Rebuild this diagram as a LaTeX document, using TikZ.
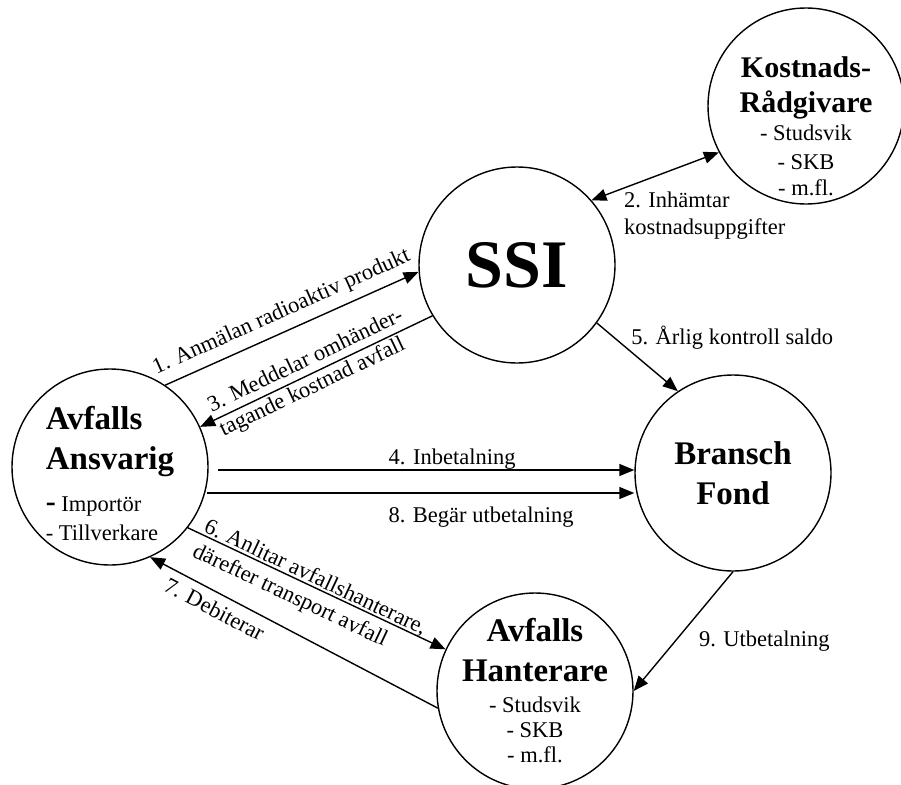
\documentclass[tikz,border=0pt]{standalone}
\usepackage{fontspec}
\setmainfont{Liberation Serif}
\usetikzlibrary{arrows.meta,positioning}
\newcommand{\namefont}{\fontsize{33}{40}\selectfont\bfseries}
\newcommand{\notefont}{\fontsize{22.5}{27}\selectfont}
\tikzset{
  party/.style={circle, draw, line width=1.4pt, minimum size=196pt, inner sep=0pt},
  inside/.style={font=\notefont, inner sep=0pt},
  flow/.style={-{Triangle[length=15pt,width=12pt]}, line width=1.4pt},
  backflow/.style={{Triangle[length=15pt,width=12pt]}-, line width=1.4pt},
  twoway/.style={{Triangle[length=15pt,width=12pt]}-{Triangle[length=15pt,width=12pt]}, line width=1.4pt},
  note/.style={font=\notefont, inner sep=2pt}
}
\begin{document}
\begin{tikzpicture}[x=1pt, y=-1pt]
  \useasboundingbox (0,0) rectangle (901,784);

  % the five parties
  \node[party, label={[inside, align=left, yshift=-6pt]center:{\namefont Avfalls\\[13pt]
      \namefont Ansvarig\\[15pt]
      {\fontsize{30}{30}\selectfont\bfseries -} Importör\\[2pt]
      - Tillverkare}}] (ans) at (110,467) {};
  \node[party, label={[inside]center:{\fontsize{68}{68}\selectfont\bfseries SSI}}] (ssi) at (517,265) {};
  \node[party, label={[inside, align=center, yshift=-20pt]center:{\fontsize{30}{35}\selectfont\bfseries Kostnads-\\[8pt]
      \fontsize{30}{35}\selectfont\bfseries Rådgivare\\[1pt]
      - Studsvik\\[2pt]
      - SKB\\[-1pt]
      - m.fl.}}] (kost) at (806,106) {};
  \node[party, label={[inside, align=center]center:{\namefont Bransch\\[13pt]
      \namefont Fond}}] (fond) at (733,473) {};
  \node[party, label={[inside, align=center]center:{\namefont Avfalls\\[13pt]
      \namefont Hanterare\\[4pt]
      - Studsvik\\[-2pt]
      - SKB\\[-2pt]
      - m.fl.}}] (hant) at (535,691) {};

  % flows
  \draw[flow] (ans.56) -- node[note, sloped, pos=0.49, above=6pt] (n1) {1. Anmälan radioaktiv produkt} (ssi.184);
  \draw[twoway] (ssi.41) -- node[note, pos=0.235, anchor=north west, align=left] (n2) {2. Inhämtar\\kostnadsuppgifter} (kost.208);
  \draw[backflow] (ans.24.5) -- node[note, sloped, pos=0.48, align=left] (n3) {3. Meddelar omhänder-\\tagande kostnad avfall} (ssi.211);
  \draw[flow] ([shift={(9,3)}]ans.east) -- node[note, pos=0.404, anchor=south west, yshift=-2pt] (n4) {4. Inbetalning} ([shift={(0,-3)}]fond.west);
  \draw[flow] (ssi.-36) -- node[note, pos=0.22, right=14pt] (n5) {5. Årlig kontroll saldo} (fond.124);
  \draw[flow] (ans.-38) -- node[note, sloped, pos=0.48, align=left, yshift=-5pt] (n6) {6. Anlitar avfallshanterare,\\därefter transport avfall} (hant.155);
  \draw[backflow] (ans.-66) -- node[note, sloped, pos=0.25, below=5.5pt] (n7) {7. Debiterar} (hant.190);
  \draw[flow] ([shift={(-2,26)}]ans.east) -- node[note, pos=0.419, anchor=north west, yshift=-11pt] (n8) {8. Begär utbetalning} ([shift={(0,20)}]fond.west);
  \draw[flow] (fond.south) -- node[note, pos=0.58, right=21pt] (n9) {9. Utbetalning} (hant.east);
\end{tikzpicture}
\end{document}
